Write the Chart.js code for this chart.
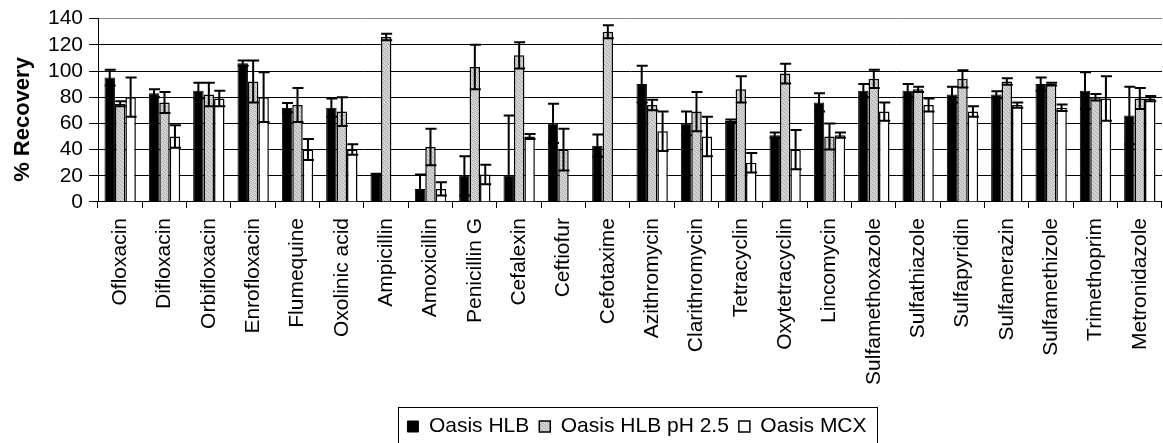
<!DOCTYPE html>
<html>
<head>
<meta charset="utf-8">
<script src="https://cdn.jsdelivr.net/npm/chart.js@4.4.1/dist/chart.umd.min.js"></script>
<style>
  html, body { margin: 0; padding: 0; background: #fff; overflow: hidden; }
</style>
</head>
<body>
<canvas id="recoveryChart" width="1175" height="447"></canvas>
<script>
// Categories and series
var compounds = ['Ofloxacin', 'Difloxacin', 'Orbifloxacin', 'Enrofloxacin', 'Flumequine', 'Oxolinic acid',
    'Ampicillin', 'Amoxicillin', 'Penicillin G', 'Cefalexin', 'Ceftiofur', 'Cefotaxime', 'Azithromycin',
    'Clarithromycin', 'Tetracyclin', 'Oxytetracyclin', 'Lincomycin', 'Sulfamethoxazole', 'Sulfathiazole',
    'Sulfapyridin', 'Sulfamerazin', 'Sulfamethizole', 'Trimethoprim', 'Metronidazole'];

var hlb      = [95, 83, 85, 106, 72, 72, 21, 10, 20, 20, 60, 43, 90, 60, 62, 51, 76, 85, 85, 82, 82, 90, 85, 66];
var hlbErr   = [6, 3, 6, 2, 3.5, 7, 0.5, 11, 15, 46, 15, 8.5, 14, 9, 1, 2, 7, 5, 5, 6, 2.5, 5, 14, 22];
var hlbPh    = [75, 76, 82, 92, 74, 69, 126, 42, 103, 112, 40, 130, 74, 69, 86, 98, 50, 94, 86, 94, 92, 90, 80, 79];
var hlbPhErr = [2, 8, 9, 16, 13, 11, 2.5, 14, 17, 10, 16, 5, 4, 15, 10, 7.5, 10, 7, 2, 6.5, 2.5, 1, 2.5, 8];
var mcx      = [80, 50, 79, 80, 40, 40, null, 10, 21, 50, null, null, 54, 50, 30, 40, 51, 69, 74, 69, 74, 72, 79, 79];
var mcxErr   = [15, 8.5, 6, 19, 8, 4, 0, 5, 7.5, 2, 0, 0, 15, 15, 7.5, 15, 2, 7, 5, 4, 2, 2.5, 17, 2];

var yTicks = [0, 20, 40, 60, 80, 100, 120, 140];

// dotted gray fill like the original
function grayPattern() {
    var c = document.createElement('canvas');
    c.width = 4; c.height = 4;
    var g = c.getContext('2d');
    g.fillStyle = '#d4d4d4';
    g.fillRect(0, 0, 4, 4);
    g.fillStyle = '#a8a8a8';
    [[0, 0], [2, 1], [1, 2], [3, 3]].forEach(function(p) { g.fillRect(p[0], p[1], 1, 1); });
    return g.createPattern(c, 'repeat');
}

Chart.defaults.font.family = '"Liberation Sans", Arial, sans-serif';
Chart.defaults.color = '#000';

// error bars drawn through the y scale
var errorBars = {
    id: 'errorBars',
    afterDatasetsDraw: function(chart) {
        var ctx = chart.ctx, y = chart.scales.y, area = chart.chartArea;
        ctx.save();
        ctx.beginPath();
        ctx.rect(area.left, area.top - 1, area.right - area.left, area.bottom - area.top + 1);
        ctx.clip();
        ctx.strokeStyle = '#000';
        ctx.lineWidth = 2;
        chart.data.datasets.forEach(function(ds, i) {
            var meta = chart.getDatasetMeta(i);
            meta.data.forEach(function(bar, j) {
                var v = ds.data[j], e = ds.errors[j];
                if (v === null || !e) return;
                var top = y.getPixelForValue(v + e), bot = y.getPixelForValue(v - e);
                ctx.beginPath();
                ctx.moveTo(bar.x, top); ctx.lineTo(bar.x, bot);
                ctx.moveTo(bar.x - 5, top); ctx.lineTo(bar.x + 6, top);
                ctx.moveTo(bar.x - 5, bot); ctx.lineTo(bar.x + 6, bot);
                ctx.stroke();
            });
        });
        ctx.restore();
    }
};

// frame around the legend, nudged a little right as in the original
var legendFrame = {
    id: 'legendFrame',
    afterLayout: function(chart) {
        chart.legend.left += 7;
        chart.legend.right += 7;
    },
    afterDraw: function(chart) {
        var hb = chart.legend.legendHitBoxes;
        if (!hb || !hb.length) return;
        var last = hb[hb.length - 1];
        var ctx = chart.ctx;
        ctx.save();
        ctx.strokeStyle = '#000';
        ctx.lineWidth = 1;
        ctx.strokeRect(Math.round(hb[0].left - 9) + 0.5, Math.round(hb[0].top - 9) + 0.5,
            Math.round(last.left + last.width - hb[0].left + 20), 60);
        ctx.restore();
    }
};

var ctx = document.getElementById('recoveryChart').getContext('2d');
var recoveryChart = new Chart(ctx, {
    type: 'bar',
    data: {
        labels: compounds,
        datasets: [{
            label: 'Oasis HLB',
            data: hlb,
            errors: hlbErr,
            backgroundColor: '#000',
            borderColor: '#000',
            borderWidth: 1
        }, {
            label: 'Oasis HLB pH 2.5',
            data: hlbPh,
            errors: hlbPhErr,
            backgroundColor: grayPattern(),
            borderColor: '#000',
            borderWidth: 1.5
        }, {
            label: 'Oasis MCX',
            data: mcx,
            errors: mcxErr,
            backgroundColor: '#fff',
            borderColor: '#000',
            borderWidth: 1.5
        }]
    },
    options: {
        responsive: false,
        devicePixelRatio: 1,
        animation: false,
        layout: { padding: { top: 11, left: 0, right: 0, bottom: 0 } },
        datasets: { bar: { categoryPercentage: 0.707, barPercentage: 1.0 } },
        scales: {
            x: {
                afterFit: function(scale) { scale.height = 204; },
                grid: { offset: true, drawOnChartArea: false, color: '#000', tickLength: 6 },
                border: { color: '#000', width: 1 },
                ticks: { autoSkip: false, minRotation: 90, maxRotation: 90, padding: 10, font: { size: 21 } }
            },
            y: {
                min: 0,
                max: 140,
                afterFit: function(scale) { scale.width = 98; },
                afterBuildTicks: function(scale) {
                    scale.ticks = yTicks.map(function(v) { return { value: v }; });
                },
                grid: {
                    color: function(c) { return c.tick && c.tick.value === 140 ? '#8a8a8a' : '#000'; },
                    tickColor: '#000',
                    tickLength: 9
                },
                border: { color: '#000', width: 1 },
                ticks: { autoSkip: false, padding: 6, font: { size: 21 } },
                title: { display: true, text: '% Recovery   ', padding: { top: 10, bottom: 0 }, font: { size: 22, weight: 'bold' } }
            }
        },
        plugins: {
            legend: {
                position: 'bottom',
                fullSize: false,
                labels: { boxWidth: 11, boxHeight: 11, padding: 10, font: { size: 21 }, color: '#000' }
            },
            tooltip: { enabled: false }
        }
    },
    plugins: [errorBars, legendFrame]
});
</script>
</body>
</html>
